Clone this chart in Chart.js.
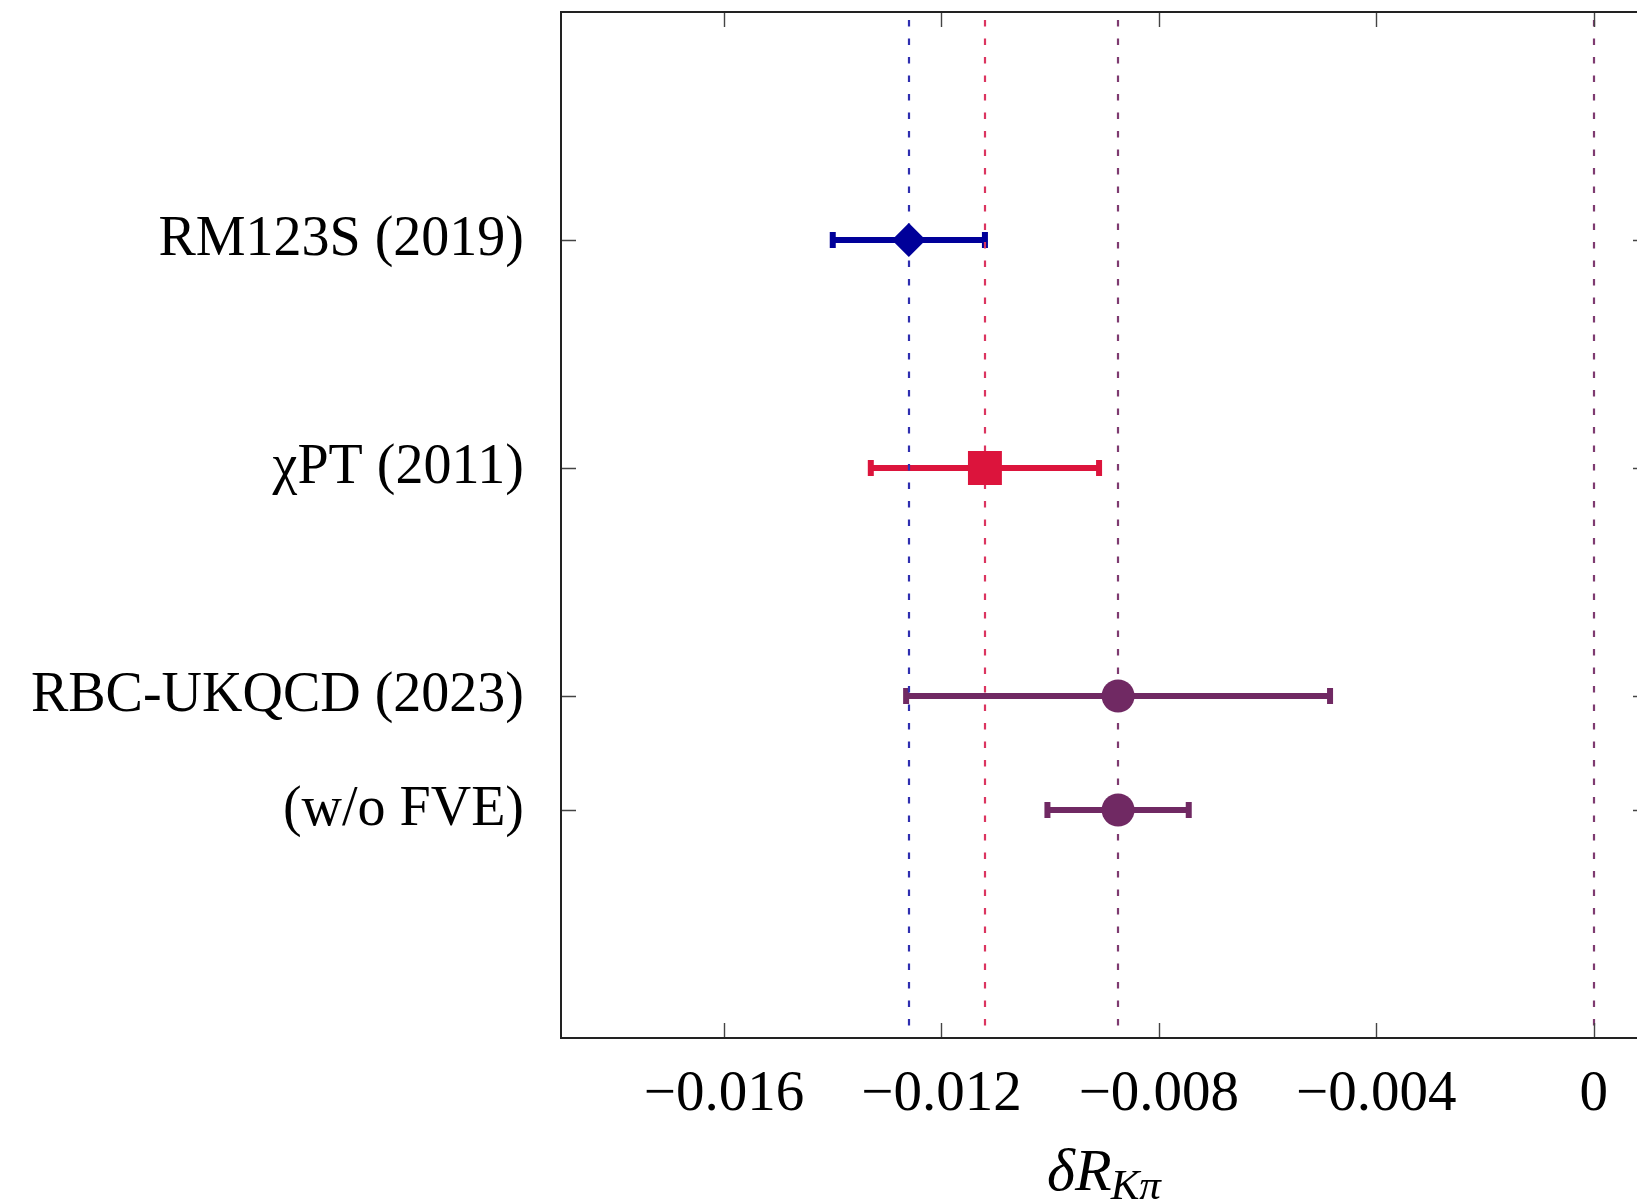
<!DOCTYPE html>
<html>
<head>
<meta charset="utf-8">
<script src="https://cdn.jsdelivr.net/npm/chart.js@4.4.1/dist/chart.umd.min.js"></script>
<style>
  html, body { margin: 0; padding: 0; background: #fff; overflow: hidden; }
  #wrap { width: 1680px; height: 1202px; }
</style>
</head>
<body>
<div id="wrap"><canvas id="chart" width="1680" height="1202"></canvas></div>
<script>
// Data
const LABELS = ['RM123S (2019)', 'χPT (2011)', 'RBC-UKQCD (2023)', '(w/o FVE)'];
const ROWS = [4, 3, 2, 1.5];
const VALUES = [-0.0126, -0.0112, -0.00875, -0.00875];
const ERRORS = [0.0014, 0.0021, 0.0039, 0.0013];
const COLORS = ['#000099', '#dc143c', '#702963', '#702963'];
const MARKERS = ['rectRot', 'rect', 'circle', 'circle'];
const MARKER_SIZES = [17, 24, 16.5, 16.5];

// vertical reference lines (dashed)
const REF_LINES = [-0.0126, -0.0112, -0.00875, 0];
const REF_COLORS = ['#2e2eb0', '#db3560', '#7e3a70', '#7e3a70'];

const X_TICKS = [-0.016, -0.012, -0.008, -0.004, 0];
const X_TICK_LABELS = ['−0.016', '−0.012', '−0.008', '−0.004', '0'];

const FONT = '"Liberation Serif", "DejaVu Serif", serif';

// error bars + dashed lines under the markers, frame/ticks/title on top
const decorations = {
    id: 'decorations',
    beforeDatasetsDraw(chart) {
        const { ctx, chartArea, scales: { x, y } } = chart;
        ctx.save();
        VALUES.forEach((v, i) => {
            const yy = y.getPixelForValue(ROWS[i]);
            const x0 = x.getPixelForValue(v - ERRORS[i]);
            const x1 = x.getPixelForValue(v + ERRORS[i]);
            ctx.strokeStyle = COLORS[i];
            ctx.fillStyle = COLORS[i];
            ctx.lineWidth = 6;
            ctx.beginPath();
            ctx.moveTo(x0, yy);
            ctx.lineTo(x1, yy);
            ctx.stroke();
            ctx.fillRect(x0 - 3, yy - 8, 6, 16);
            ctx.fillRect(x1 - 3, yy - 8, 6, 16);
        });

        ctx.lineWidth = 2.2;
        ctx.setLineDash([6.5, 12]);
        REF_LINES.forEach((v, i) => {
            const xx = Math.round(x.getPixelForValue(v));
            ctx.strokeStyle = REF_COLORS[i];
            ctx.beginPath();
            ctx.moveTo(xx, chartArea.top + 8);
            ctx.lineTo(xx, chartArea.bottom);
            ctx.stroke();
        });
        ctx.restore();
    },
    afterDraw(chart) {
        const { ctx, chartArea: a, scales: { x, y } } = chart;
        ctx.save();
        // inward ticks
        ctx.strokeStyle = '#444';
        ctx.lineWidth = 1.4;
        ctx.beginPath();
        X_TICKS.forEach(v => {
            const xx = Math.round(x.getPixelForValue(v)) + 0.5;
            ctx.moveTo(xx, a.bottom); ctx.lineTo(xx, a.bottom - 15);
            ctx.moveTo(xx, a.top); ctx.lineTo(xx, a.top + 15);
        });
        ROWS.forEach(v => {
            const yy = Math.round(y.getPixelForValue(v)) + 0.5;
            ctx.moveTo(a.left, yy); ctx.lineTo(a.left + 15, yy);
            ctx.moveTo(a.right, yy); ctx.lineTo(a.right - 15, yy);
        });
        ctx.stroke();

        // frame
        ctx.strokeStyle = '#222';
        ctx.lineWidth = 2;
        ctx.strokeRect(a.left, a.top, a.right - a.left, a.bottom - a.top);

        // axis title: δR_{Kπ}
        ctx.fillStyle = '#000';
        ctx.textBaseline = 'alphabetic';
        ctx.textAlign = 'left';
        const mainFont = 'italic 60px ' + FONT;
        const subFont = 'italic 43px ' + FONT;
        ctx.font = mainFont;
        const w1 = ctx.measureText('δR').width;
        ctx.font = subFont;
        const w2 = ctx.measureText('Kπ').width;
        const cx = (a.left + a.right) / 2;
        const sx = cx - (w1 + w2) / 2;
        ctx.font = mainFont;
        ctx.fillText('δR', sx, 1190);
        ctx.font = subFont;
        ctx.fillText('Kπ', sx + w1 - 1, 1199);
        ctx.restore();
    }
};

new Chart(document.getElementById('chart'), {
    type: 'scatter',
    data: {
        datasets: [{
            data: VALUES.map((v, i) => ({ x: v, y: ROWS[i] })),
            pointStyle: MARKERS,
            pointRadius: MARKER_SIZES,
            pointHoverRadius: MARKER_SIZES,
            backgroundColor: COLORS,
            borderWidth: 0
        }]
    },
    options: {
        responsive: false,
        animation: false,
        devicePixelRatio: 1,
        layout: { autoPadding: false, padding: { top: 12, right: 32, bottom: 0, left: 0 } },
        plugins: {
            legend: { display: false },
            tooltip: { enabled: false }
        },
        scales: {
            x: {
                type: 'linear',
                min: -0.019,
                max: 0.001,
                afterBuildTicks: s => { s.ticks = X_TICKS.map(v => ({ value: v })); },
                afterFit: s => {
                    s.height = 164;
                    s.paddingLeft = 0;
                    s.paddingRight = 0;
                },
                ticks: {
                    callback: (v, i) => X_TICK_LABELS[i],
                    font: { family: FONT, size: 57 },
                    color: '#000',
                    padding: 23,
                    maxRotation: 0,
                    autoSkip: false
                },
                grid: { display: false, drawTicks: false },
                border: { display: false }
            },
            y: {
                type: 'linear',
                min: 0.5,
                max: 5,
                afterBuildTicks: s => { s.ticks = ROWS.map(v => ({ value: v })); },
                afterFit: s => {
                    s.width = 561;
                    s.paddingTop = 0;
                    s.paddingBottom = 0;
                },
                ticks: {
                    callback: (v, i) => LABELS[i],
                    font: { family: FONT, size: 56 },
                    color: '#000',
                    padding: 37,
                    autoSkip: false
                },
                grid: { display: false, drawTicks: false },
                border: { display: false }
            }
        }
    },
    plugins: [decorations]
});
</script>
</body>
</html>
